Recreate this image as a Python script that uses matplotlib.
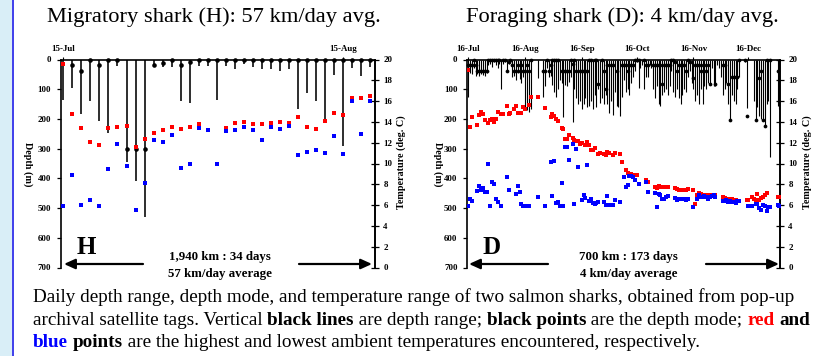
import numpy as np
import matplotlib
matplotlib.use("Agg")
import matplotlib.pyplot as plt
from matplotlib.patches import Rectangle
from matplotlib.lines import Line2D
from matplotlib.font_manager import FontProperties

N = float('nan')

# ---------------- Data: Migratory shark (H) ----------------
H_dates = ["15-Jul", "15-Aug"]
H_date_days = [0, 31]
H_max = [135, 95, 185, 138, 208, 248, 21, 346, 408, 531, 25, 25, 24, 138, 145, 21, 21, 135,
         21, 31, 15, 26, 31, 31, 40, 31, 166, 113, 138, 211, 51, 292, 29, 54, 26]
H_mode = [N, 20, 40, 0, 20, 0, 0, 302, 302, 302, 20, 11, 0, 20, 10, 0, 0, 0,
          0, 0, 0, 0, 0, 0, 0, 0, 0, 0, 0, 0, 0, 0, 0, 0, 0]
H_red = [19.6, 14.8, 13.4, 12.1, 11.8, 13.4, 13.5, 13.6, 11.6, 12.4, 12.9, 13.2, 13.5, 13.3,
         13.5, 13.8, N, N, 13.4, 13.9, 14.0, 13.8, 13.8, 13.9, 14.0, 13.9, 14.5, 13.5, 13.3,
         14.1, 14.9, 14.7, 16.3, 16.3, 16.5]
H_blue = [5.9, 8.9, 6.0, 6.5, 5.9, 9.5, 11.9, 9.8, 5.5, 8.1, 12.3, 12.1, 12.7, 9.6, 10.0,
          13.4, 13.2, 10.0, 13.1, 13.2, 13.5, 13.2, 12.3, 13.5, 13.3, 13.6, 10.8, 11.1, 11.3,
          11.0, 12.6, 10.9, 16.0, 12.8, 16.0]

# ---------------- Data: Foraging shark (D) ----------------
D_dates = ["16-Jul", "16-Aug", "16-Sep", "16-Oct", "16-Nov", "16-Dec"]
D_date_days = [0, 31, 62, 92, 123, 153]
D_max = [127, 45, 50, 30, 55, 50, 55, 48, 52, 55,
         45, 20, 15, 25, 10, 20, 30, 15, 100, 15,
         10, 40, 15, 10, 60, 55, 70, 45, 65, 80,
         60, 160, 170, 175, 165, 0, 0, 0, 61, 0,
         0, 127, 90, 30, 60, 55, 85, 110, 125, 100,
         70, 80, 194, 85, 90, 75, 60, 211, 100, 130,
         150, 140, 165, 150, 130, 160, 155, 140, 165, 120,
         160, 100, 145, 130, 150, 120, 150, 180, 140, 188,
         110, 155, 160, 191, 125, 70, 110, 100, 120, 80,
         60, 40, 10, 95, 30, 20, 100, 60, 60, 20,
         30, 100, 130, 90, 150, 157, 120, 110, 100, 120,
         90, 40, 110, 125, 100, 130, 150, 120, 100, 110,
         60, 40, 80, 100, 140, 120, 150, 100, 151, 90,
         100, 80, 85, 30, 90, 90, 20, 30, 60, 120,
         100, 80, 150, 203, 120, 140, 150, 100, 60, 0,
         0, 10, 163, 0, 0, 0, 140, 203, 160, 190,
         200, 203, 224, 150, 140, 327, 0, 0, 0, 155,
         165]
D_mode = [20, 20, 20, 0, 20, 40, 40, 40, 40, 40,
          40, 0, 0, 0, 0, 0, 0, 0, N, 0,
          0, 40, 8, 0, 20, 40, 40, 20, 40, 20,
          40, 40, 20, 40, 0, N, N, N, N, N,
          N, 40, 40, 0, 40, 20, 0, 0, 0, 0,
          N, 40, 40, 40, 40, 40, 0, 14, 0, 40,
          N, 40, 40, 40, 40, 40, 0, 0, N, 0,
          0, 81, N, 0, 40, 100, 20, N, 20, 20,
          N, 40, N, N, 20, 20, 20, 40, 20, 20,
          20, 0, 0, 0, N, N, 0, 20, 20, N,
          N, 20, 20, 20, 20, 20, 84, 20, 20, 20,
          20, 0, 0, 8, 40, 20, 20, 20, 20, 40,
          0, 8, N, 61, 20, 20, 20, 40, 20, 20,
          40, 20, 81, N, N, 81, N, N, N, 20,
          20, N, 81, 203, 60, 60, 60, 60, 0, N,
          N, 0, 190, N, N, N, N, 203, N, 61,
          40, 203, 224, 0, N, 0, N, N, N, 40,
          N]
D_red = [19.0, 13.55, 14.5, N, N, 13.7, 14.7, 15.0, 14.75, 14.2,
         N, 13.9, 14.2, 14.3, 14.0, 14.3, 15.0, N, 14.75, 14.8,
         N, 15.5, 14.75, 14.9, N, 15.2, 15.5, 14.9, 14.9, 14.9,
         15.4, 15.2, N, 15.6, 16.4, N, N, N, 16.4, N,
         N, N, 15.35, N, N, 14.5, 14.75, 14.6, 14.3, 14.05,
         N, 13.4, 13.3, 12.4, 12.4, 12.75, N, 12.5, 12.3, 12.2,
         12.2, 11.85, 12.0, N, 11.75, 12.05, 11.8, 11.3, 11.3, 11.45,
         N, 10.95, 11.0, N, 10.9, 10.85, 11.1, 11.0, N, 10.8,
         11.0, N, N, 10.9, 10.1, N, 9.4, 9.1, 9.0, 9.0,
         8.9, 8.85, 8.85, N, N, N, N, 8.4, 8.2, N,
         N, N, 7.7, 7.65, 7.8, 7.75, 7.75, 7.75, 7.7, 7.7,
         N, N, N, 7.6, 7.55, 7.5, 7.5, 7.45, N, 7.45,
         7.55, N, N, 7.45, 6.1, 6.95, 7.2, 7.1, 7.0, 6.95,
         7.0, 7.0, 7.0, 7.0, 6.95, 7.0, N, N, N, 6.75,
         6.7, 6.6, 6.6, 6.6, 6.55, 6.45, 6.45, 6.4, 6.4, N,
         N, N, 6.5, 6.45, N, 6.8, 6.55, 6.45, 7.1, 6.45,
         6.7, 6.8, 7.0, 7.2, N, N, N, N, N, 6.75,
         6.75]
D_blue = [5.9, 6.55, 6.4, N, N, 7.4, 7.8, 7.5, 7.6, 7.3,
          7.3, 10.0, 5.9, 8.25, 8.0, 6.55, 6.3, N, 5.9, N,
          N, 8.7, 7.5, N, N, N, 7.1, 7.8, 7.3, 6.1,
          5.9, 5.9, N, 5.9, N, N, N, N, 6.8, N,
          N, N, 5.9, N, N, 10.1, 6.9, 10.2, 6.2, 6.3,
          5.9, 8.1, 5.9, 11.6, 11.6, 10.3, N, 11.9, 6.1, 11.4,
          9.7, N, 6.5, 7.0, 6.7, 9.85, 6.4, 6.6, 6.2, 6.1,
          6.2, 6.3, N, N, 6.3, 6.0, 6.85, 6.0, N, 6.0,
          6.5, N, N, 6.3, N, 8.7, 7.75, 7.9, 8.8, 8.8,
          8.7, 8.4, N, 8.0, N, N, N, 8.2, 7.25, N,
          N, N, 7.2, 5.85, 7.1, 7.0, 6.55, 6.55, 6.8, 6.85,
          N, N, N, 6.7, 6.45, 6.6, 6.55, 6.55, 6.6, 6.45,
          6.6, N, N, 5.8, N, 6.6, 7.0, 6.8, 6.75, 6.9,
          6.75, 6.55, 6.75, 6.9, 6.95, 6.8, N, N, N, 6.4,
          6.35, 6.5, 6.3, 6.4, 6.3, 6.3, 6.2, 6.35, 6.35, N,
          N, N, N, 5.95, 5.95, 5.95, N, 6.1, 6.1, 5.7,
          5.5, 6.0, 5.9, 5.4, 5.8, 5.85, N, N, N, 6.05,
          5.9]

depth_ticks = [0, 100, 200, 300, 400, 500, 600, 700]
temp_ticks = [0, 2, 4, 6, 8, 10, 12, 14, 16, 18, 20]

titles = ["Migratory shark (H): 57 km/day avg.", "Foraging shark (D): 4 km/day avg."]
letters = ["H", "D"]
notes1 = ["1,940 km : 34 days", "700 km : 173 days"]
notes2 = ["57 km/day average", "4 km/day average"]

# ---------------- Figure ----------------
W, Hh = 825, 356
fig = plt.figure(figsize=(W / 100, Hh / 100), dpi=100)
fig.patch.set_facecolor("white")

SERIF = "Liberation Serif"

def fx(px):
    return px / W

def fy(py):
    return 1 - py / Hh

# left decorative strip
fig.patches.append(Rectangle((0, 0), fx(12), 1, transform=fig.transFigure,
                             facecolor="#d9eef7", edgecolor="none", zorder=0))
fig.lines.append(Line2D([fx(13), fx(13)], [0, 1], transform=fig.transFigure,
                        color="#0a0ae6", lw=1.1))

panels = [
    dict(left=60.5, right=375, xlim=(-0.31, 34.52), dates=H_dates, date_days=H_date_days,
         mx=H_max, md=H_mode, red=H_red, blue=H_blue, stem_lw=1.15, ms_mode=3.3, ms_t=2.5,
         title_x=214, depth_lab_x=28, temp_lab_x=401, letter_x=86,
         arrows=[(143, 64), (299, 372)]),
    dict(left=467.3, right=780, xlim=(-0.55, 170.3), dates=D_dates, date_days=D_date_days,
         mx=D_max, md=D_mode, red=D_red, blue=D_blue, stem_lw=0.8, ms_mode=2.7, ms_t=2.4,
         title_x=622, depth_lab_x=438, temp_lab_x=807, letter_x=492,
         arrows=[(548, 469), (706, 779)]),
]

top_px, bot_px = 59.5, 267.5
for i, p in enumerate(panels):
    ax = fig.add_axes([fx(p["left"]), fy(bot_px), fx(p["right"] - p["left"]),
                       (bot_px - top_px) / Hh])
    ax.patch.set_visible(False)
    days = np.arange(len(p["mx"]))
    ax.vlines(days, 0, p["mx"], color="#000000", lw=p["stem_lw"], zorder=2)
    ax.plot(days, p["md"], "o", color="black", ms=p["ms_mode"], mew=0, zorder=3,
            clip_on=False)
    ax.set_xlim(*p["xlim"])
    ax.set_ylim(700, 0)
    ax.set_yticks(depth_ticks)
    ax.set_yticklabels([str(v) for v in depth_ticks], fontfamily=SERIF,
                       fontweight="bold", fontsize=6.4)
    ax.tick_params(axis="y", direction="out", length=3, width=0.9, pad=4)
    ax.xaxis.tick_top()
    ax.set_xticks(p["date_days"])
    ax.set_xticklabels(p["dates"], fontfamily=SERIF, fontweight="bold", fontsize=6.4)
    ax.tick_params(axis="x", direction="out", length=2, width=0.8, pad=3)
    for s in ["left", "right", "top"]:
        ax.spines[s].set_linewidth(1.2)
    ax.spines["bottom"].set_visible(False)

    axt = ax.twinx()
    axt.set_ylim(0, 20)
    axt.set_xlim(*p["xlim"])
    axt.plot(days, p["red"], "s", color="#ff0000", ms=p["ms_t"], mew=0, zorder=4)
    axt.plot(days, p["blue"], "s", color="#0000ff", ms=p["ms_t"], mew=0, zorder=4)
    axt.set_yticks(temp_ticks)
    axt.set_yticklabels([str(v) for v in temp_ticks], fontfamily=SERIF,
                        fontweight="bold", fontsize=6.4)
    axt.tick_params(axis="y", direction="inout", length=6, width=0.9, pad=3)
    for s in ["left", "bottom", "top"]:
        axt.spines[s].set_visible(False)
    axt.spines["right"].set_linewidth(1.2)

    # titles and labels
    fig.text(fx(p["title_x"]), fy(17), titles[i], fontfamily=SERIF, fontsize=16.2,
             ha="center", va="center")
    fig.text(fx(p["depth_lab_x"]), fy(164), "Depth (m)", rotation=-90, fontfamily=SERIF,
             fontweight="bold", fontsize=7.3, ha="center", va="center")
    fig.text(fx(p["temp_lab_x"]), fy(162), "Temperature (deg. C)", rotation=90,
             fontfamily=SERIF, fontweight="bold", fontsize=7.3, ha="center", va="center")
    fig.text(fx(p["letter_x"]), fy(247), letters[i], fontfamily=SERIF, fontweight="bold",
             fontsize=18, ha="center", va="center")
    cx = (p["left"] + p["right"]) / 2 + (2 if i == 0 else 5)
    fig.text(fx(cx), fy(257), notes1[i], fontfamily=SERIF,
             fontweight="bold", fontsize=9.3, ha="center", va="center")
    fig.text(fx(cx), fy(273.5), notes2[i], fontfamily=SERIF,
             fontweight="bold", fontsize=9.3, ha="center", va="center")
    for (x0, x1) in p["arrows"]:
        fig.add_artist(matplotlib.patches.FancyArrowPatch(
            (fx(x0), fy(264)), (fx(x1), fy(264)), transform=fig.transFigure,
            arrowstyle="-|>,head_length=0.55,head_width=0.25", mutation_scale=12,
            color="black", lw=1.6, shrinkA=0, shrinkB=0))

# ---------------- Caption with mixed styles ----------------
renderer = fig.canvas.get_renderer()
CAP_FS = 13.8
fp_reg = FontProperties(family=SERIF, size=CAP_FS)
fp_bold = FontProperties(family=SERIF, size=CAP_FS, weight="bold")

def adv(s, fp):
    w1 = renderer.get_text_width_height_descent(s + "|", fp, ismath=False)[0]
    w2 = renderer.get_text_width_height_descent("|", fp, ismath=False)[0]
    return w1 - w2

caption = [
    [("Daily depth range, depth mode, and temperature range of two salmon sharks, obtained from pop-up", False, "black")],
    [("archival satellite tags. Vertical ", False, "black"), ("black lines", True, "black"),
     (" are depth range; ", False, "black"), ("black points", True, "black"),
     (" are the depth mode; ", False, "black"), ("red", True, "#ff0000"),
     (" ", False, "black"), ("and", True, "black")],
    [("blue", True, "#0000ff"), (" ", False, "black"), ("points", True, "black"),
     (" are the highest and lowest ambient temperatures encountered, respectively.", False, "black")],
]
baselines = [302, 325, 347]
for line, base in zip(caption, baselines):
    x = 33.0
    for s, bold, col in line:
        fp = fp_bold if bold else fp_reg
        fig.text(fx(x), fy(base), s, fontproperties=fp, color=col, ha="left", va="baseline")
        x += adv(s, fp)

fig.savefig("out.png", dpi=100)
